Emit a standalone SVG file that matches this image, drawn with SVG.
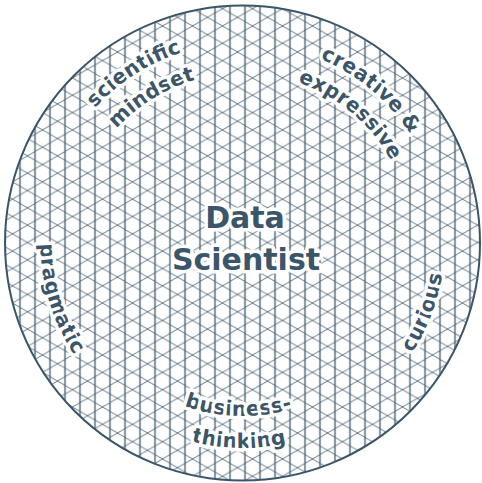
<svg xmlns="http://www.w3.org/2000/svg" width="482" height="483" viewBox="0 0 482 483">
<style>
.lbl{font-family:"DejaVu Sans",Verdana,sans-serif;font-weight:bold;fill:#3b5569;stroke:#fff;stroke-width:7;stroke-linejoin:round;paint-order:stroke}
.v{stroke:#3b5569;stroke-width:1.3}
.d{stroke:#3b5569;stroke-width:0.8}
</style>
<defs>
<pattern id="grid" patternUnits="userSpaceOnUse" width="30" height="17.3205" patternTransform="translate(-2.5,0)">
<line class="v" x1="7.5" y1="-1" x2="7.5" y2="19"/><line class="v" x1="22.5" y1="-1" x2="22.5" y2="19"/>
<line class="d" x1="0" y1="0" x2="30" y2="17.32"/><line class="d" x1="0" y1="-17.32" x2="30" y2="0"/><line class="d" x1="0" y1="17.32" x2="30" y2="34.64"/>
<line class="d" x1="0" y1="17.32" x2="30" y2="0"/><line class="d" x1="0" y1="34.64" x2="30" y2="17.32"/><line class="d" x1="0" y1="0" x2="30" y2="-17.32"/>
</pattern>
<clipPath id="cc"><circle cx="242.5" cy="243" r="237.5"/></clipPath>
<path id="cw200" d="M242.5,443 A200,200 0 1 1 242.5,43 A200,200 0 1 1 242.5,443"/>
<path id="cw170" d="M242.5,413 A170,170 0 1 1 242.5,73 A170,170 0 1 1 242.5,413"/>
<path id="ccw202" d="M242.5,41 A202,202 0 1 0 242.5,445 A202,202 0 1 0 242.5,41"/>
<path id="ccw173" d="M242.5,70 A173,173 0 1 0 242.5,416 A173,173 0 1 0 242.5,70"/>
<path id="ccw205" d="M242.5,38 A205,205 0 1 0 242.5,448 A205,205 0 1 0 242.5,38"/>
</defs>
<g id="disc">
<rect x="0" y="0" width="482" height="483" fill="url(#grid)" clip-path="url(#cc)"/>
<circle cx="242.5" cy="243" r="237.5" fill="none" stroke="#3b5569" stroke-width="2"/>
</g>
<g id="center">
<text class="lbl" x="245" y="228" font-size="30" text-anchor="middle">Data</text>
<text class="lbl" x="246" y="270" font-size="30" text-anchor="middle">Scientist</text>
</g>
<g id="scientific-mindset">
<text class="lbl" font-size="20.5" text-anchor="middle"><textPath href="#cw200" startOffset="40.92%">scientific</textPath></text>
<text class="lbl" font-size="20.5" text-anchor="middle"><textPath href="#cw170" startOffset="41.11%">mindset</textPath></text>
</g>
<g id="creative-expressive">
<text class="lbl" font-size="20.5" text-anchor="middle"><textPath href="#cw200" startOffset="61.1%">creative &amp;</textPath></text>
<text class="lbl" font-size="20.5" text-anchor="middle"><textPath href="#cw170" startOffset="61.11%">expressive</textPath></text>
</g>
<g id="pragmatic">
<text class="lbl" font-size="20.5" text-anchor="middle"><textPath href="#ccw202" startOffset="29.7%">pragmatic</textPath></text>
</g>
<g id="curious">
<text class="lbl" font-size="20.5" text-anchor="middle"><textPath href="#ccw202" startOffset="69.19%">curious</textPath></text>
</g>
<g id="business-thinking">
<text class="lbl" font-size="20.5" text-anchor="middle"><textPath href="#ccw173" startOffset="49.6%">business-</textPath></text>
<text class="lbl" font-size="20.5" text-anchor="middle"><textPath href="#ccw205" startOffset="49.7%">thinking</textPath></text>
</g>
</svg>
